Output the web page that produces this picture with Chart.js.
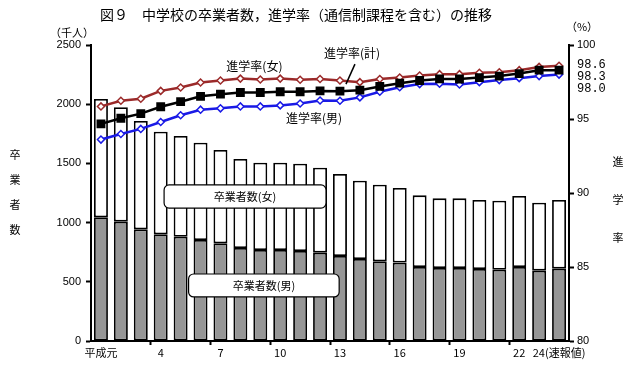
<!DOCTYPE html>
<html>
<head>
<meta charset="utf-8">
<script src="https://cdn.jsdelivr.net/npm/chart.js@4"></script>
<style>
  body { margin: 0; background: #fff; }
  #wrap { width: 640px; height: 370px; }
</style>
</head>
<body>
<div id="wrap"><canvas id="chart" width="640" height="370"></canvas></div>
<script>
// 平成元年〜24年
const years = ['平成元','2','3','4','5','6','7','8','9','10','11','12','13','14','15','16','17','18','19','20','21','22','23','24(速報値)'];
// 卒業者数 (千人)
const gradMale   = [1045, 1008, 943, 901, 881, 853, 825, 785, 769, 769, 760, 746, 718, 693, 673, 662, 625, 617, 617, 608, 602, 625, 594, 611];
const gradFemale = [999, 966, 915, 867, 850, 822, 788, 752, 737, 737, 737, 718, 692, 661, 647, 630, 605, 588, 588, 583, 583, 600, 574, 580];
// 進学率 (%)
const rateFemale = [95.85, 96.23, 96.37, 96.9, 97.13, 97.47, 97.6, 97.73, 97.67, 97.73, 97.65, 97.7, 97.6, 97.49, 97.7, 97.8, 97.94, 98.03, 98.03, 98.12, 98.16, 98.3, 98.52, 98.6];
const rateTotal  = [94.67, 95.05, 95.36, 95.83, 96.17, 96.53, 96.68, 96.79, 96.79, 96.84, 96.84, 96.9, 96.88, 96.95, 97.2, 97.42, 97.6, 97.71, 97.7, 97.8, 97.9, 98.07, 98.3, 98.3];
const rateMale   = [93.61, 93.99, 94.33, 94.8, 95.25, 95.63, 95.72, 95.85, 95.85, 95.92, 96.05, 96.25, 96.23, 96.46, 96.84, 97.15, 97.36, 97.38, 97.33, 97.49, 97.63, 97.76, 97.9, 98.0];
const shownX = [0, 3, 6, 9, 12, 15, 18, 21, 23];

const JP = '"Noto Sans CJK JP", sans-serif';

function roundBox(ctx, x, y, w, h, r) {
    ctx.beginPath();
    ctx.moveTo(x + r, y);
    ctx.lineTo(x + w - r, y);
    ctx.arcTo(x + w, y, x + w, y + r, r);
    ctx.lineTo(x + w, y + h - r);
    ctx.arcTo(x + w, y + h, x + w - r, y + h, r);
    ctx.lineTo(x + r, y + h);
    ctx.arcTo(x, y + h, x, y + h - r, r);
    ctx.lineTo(x, y + r);
    ctx.arcTo(x, y, x + r, y, r);
    ctx.closePath();
}

// 見出し・注記
const textPlugin = {
    id: 'texts',
    afterDatasetsDraw(chart) {
        const ctx = chart.ctx;
        const xs = chart.scales.x, ys = chart.scales.y, yr = chart.scales.y1;
        ctx.save();
        ctx.fillStyle = '#000';
        ctx.textBaseline = 'middle';
        ctx.textAlign = 'center';

        ctx.font = '14px ' + JP;
        ctx.fillText('図９　中学校の卒業者数，進学率（通信制課程を含む）の推移', 296, 15);
        ctx.font = '11px ' + JP;
        ctx.fillText('（千人）', 72, 33);
        ctx.fillText('（%）', 582, 27);

        ['卒', '業', '者', '数'].forEach((c, i) => ctx.fillText(c, 15, 155 + i * 25));
        ['進', '学', '率'].forEach((c, i) => ctx.fillText(c, 618, 162 + i * 38));

        // 系列名
        ctx.font = '12px ' + JP;
        ctx.fillText('進学率(女)', xs.getPixelForValue(7) + 14, yr.getPixelForValue(rateFemale[7]) - 12);
        ctx.fillText('進学率(男)', xs.getPixelForValue(11) - 6, yr.getPixelForValue(rateMale[11]) + 18);
        const px = xs.getPixelForValue(12), py = yr.getPixelForValue(rateTotal[12]);
        ctx.fillText('進学率(計)', px + 12, py - 38);
        ctx.beginPath();
        ctx.strokeStyle = '#000';
        ctx.lineWidth = 1.5;
        ctx.moveTo(px + 15, py - 27);
        ctx.lineTo(px + 6, py - 7);
        ctx.stroke();

        // 最終値
        ctx.textAlign = 'left';
        ctx.font = '12px "Liberation Mono", monospace';
        const yTop = yr.getPixelForValue(rateFemale[23]);
        ctx.fillText('98.6', chart.chartArea.right + 8, yTop - 1);
        ctx.fillText('98.3', chart.chartArea.right + 8, yTop + 11);
        ctx.fillText('98.0', chart.chartArea.right + 8, yTop + 23);

        // 卒業者数の枠
        ctx.textAlign = 'center';
        ctx.font = '11px ' + JP;
        ctx.lineWidth = 1.2;
        [['卒業者数(女)', 3.17, 11.3, 1318, 1123], ['卒業者数(男)', 4.4, 11.96, 566, 372]].forEach(b => {
            const x0 = xs.getPixelForValue(b[1]), x1 = xs.getPixelForValue(b[2]);
            const y0 = ys.getPixelForValue(b[3]), y1 = ys.getPixelForValue(b[4]);
            roundBox(ctx, x0, y0, x1 - x0, y1 - y0, 5);
            ctx.fillStyle = '#fff';
            ctx.fill();
            ctx.stroke();
            ctx.fillStyle = '#000';
            ctx.fillText(b[0], (x0 + x1) / 2, (y0 + y1) / 2);
        });
        ctx.restore();
    }
};

new Chart(document.getElementById('chart'), {
    type: 'bar',
    data: {
        labels: years,
        datasets: [{
            label: '進学率(女)',
            type: 'line',
            data: rateFemale,
            yAxisID: 'y1',
            borderColor: '#9b2a2a',
            borderWidth: 2.5,
            pointStyle: 'rectRot',
            pointRadius: 3.5,
            pointBackgroundColor: '#fff',
            pointBorderColor: '#9b2a2a',
            pointBorderWidth: 1.5,
            order: 1
        }, {
            label: '進学率(男)',
            type: 'line',
            data: rateMale,
            yAxisID: 'y1',
            borderColor: '#1a1ae6',
            borderWidth: 2.5,
            pointStyle: 'rectRot',
            pointRadius: 3.5,
            pointBackgroundColor: '#fff',
            pointBorderColor: '#1a1ae6',
            pointBorderWidth: 1.5,
            order: 1
        }, {
            label: '進学率(計)',
            type: 'line',
            data: rateTotal,
            yAxisID: 'y1',
            borderColor: '#000',
            borderWidth: 2.5,
            pointStyle: 'rect',
            pointRadius: 4.5,
            pointBackgroundColor: '#000',
            pointBorderColor: '#000',
            order: 0
        }, {
            label: '卒業者数(男)',
            data: gradMale,
            yAxisID: 'y',
            backgroundColor: '#969696',
            borderColor: '#000',
            borderWidth: 1.8,
            borderSkipped: false,
            barPercentage: 0.7,
            categoryPercentage: 1,
            order: 2
        }, {
            label: '卒業者数(女)',
            data: gradFemale,
            yAxisID: 'y',
            backgroundColor: '#fff',
            borderColor: '#000',
            borderWidth: 1.8,
            borderSkipped: false,
            barPercentage: 0.7,
            categoryPercentage: 1,
            order: 2
        }]
    },
    options: {
        responsive: false,
        animation: false,
        layout: { padding: { top: 45, left: 0, right: 0, bottom: 0 } },
        plugins: {
            legend: { display: false },
            tooltip: { enabled: false }
        },
        scales: {
            x: {
                stacked: true,
                afterFit: s => { s.height = 29; },
                border: { color: '#000', width: 2 },
                grid: {
                    offset: true,
                    drawOnChartArea: false,
                    tickLength: 4,
                    tickWidth: 2,
                    tickColor: c => (c.index % 3 === 0 && c.index > 0) ? '#000' : 'rgba(0,0,0,0)'
                },
                ticks: {
                    autoSkip: false,
                    maxRotation: 0,
                    padding: 1,
                    color: '#000',
                    font: { family: JP, size: 11 },
                    callback: function (v, i) { return shownX.includes(i) ? this.getLabelForValue(v) : ''; }
                }
            },
            y: {
                stacked: true,
                position: 'left',
                min: 0,
                max: 2500,
                afterFit: s => { s.width = 91; },
                border: { color: '#000', width: 2 },
                grid: { drawOnChartArea: false, tickLength: 5, tickWidth: 2, tickColor: '#000' },
                ticks: {
                    stepSize: 500,
                    padding: 5,
                    color: '#000',
                    font: { family: '"Liberation Sans Narrow", sans-serif', size: 11 },
                    callback: v => String(v)
                }
            },
            y1: {
                position: 'right',
                min: 80,
                max: 100,
                afterFit: s => { s.width = 71; },
                border: { color: '#000', width: 2 },
                grid: { drawOnChartArea: false, tickLength: 5, tickWidth: 2, tickColor: '#000' },
                ticks: {
                    stepSize: 5,
                    padding: 3,
                    color: '#000',
                    font: { family: '"Liberation Sans Narrow", sans-serif', size: 11 },
                    callback: v => String(v)
                }
            }
        }
    },
    plugins: [textPlugin]
});
</script>
</body>
</html>
